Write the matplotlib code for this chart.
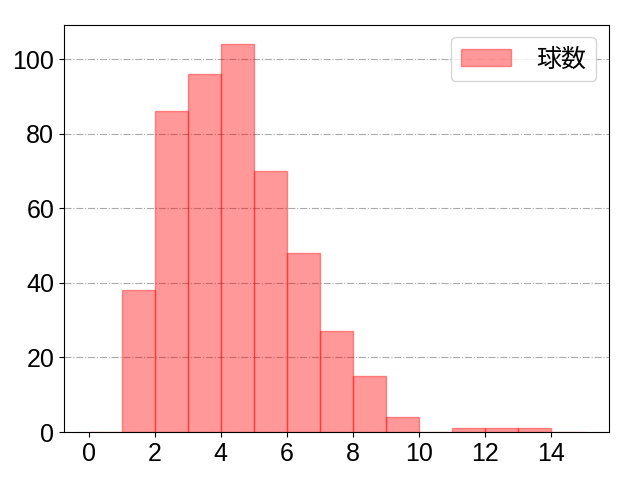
import matplotlib
matplotlib.use("Agg")
import matplotlib.pyplot as plt
import numpy as np

plt.rcParams['font.family'] = ['Liberation Sans', 'Noto Sans CJK JP', 'DejaVu Sans']

bin_edges = list(range(0, 16))
counts = [0, 38, 86, 96, 104, 70, 48, 27, 15, 4, 0, 1, 1, 1, 0]
label = '球数'
xticks = [0, 2, 4, 6, 8, 10, 12, 14]
yticks = [0, 20, 40, 60, 80, 100]

centers = [(bin_edges[i] + bin_edges[i + 1]) / 2 for i in range(len(counts))]

fig, ax = plt.subplots(figsize=(6.4, 4.8), dpi=100)
ax.hist(centers, bins=bin_edges, weights=counts, color='red', alpha=0.4,
        edgecolor='red', linewidth=1, label=label)
ax.set_xticks(xticks)
ax.set_yticks(yticks)
ax.tick_params(labelsize=18)
ax.yaxis.grid(True, linestyle='-.', color='#aaaaaa', linewidth=0.8)
ax.set_axisbelow(True)
ax.legend(fontsize=18, loc='upper right', handlelength=2.0, handletextpad=1.0)
fig.subplots_adjust(left=0.1, right=0.951, top=0.948, bottom=0.1)
fig.savefig('out.png', dpi=100)
